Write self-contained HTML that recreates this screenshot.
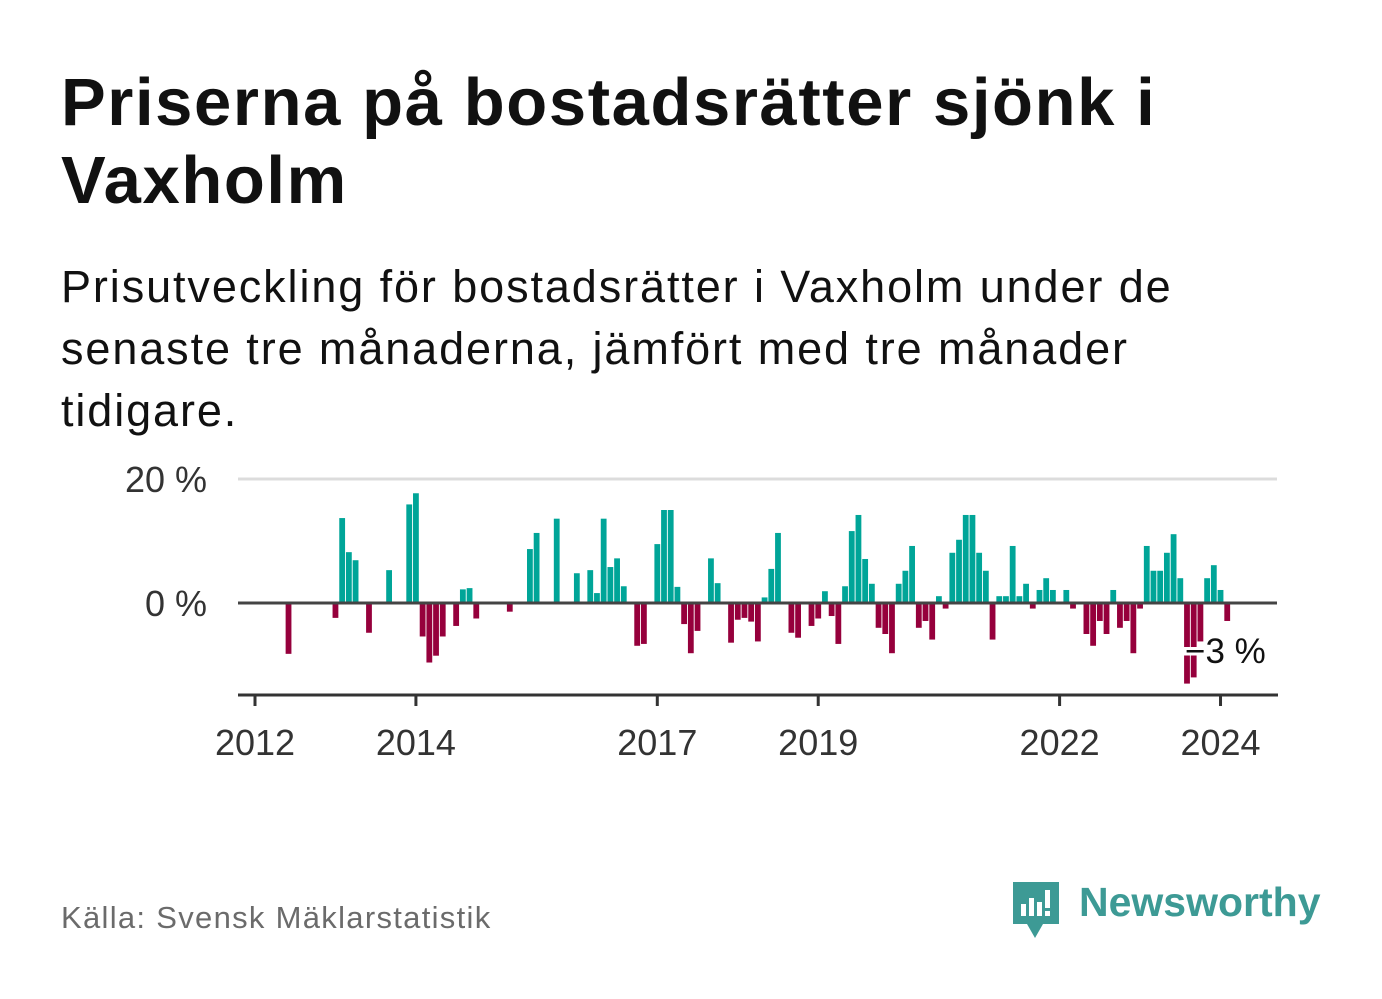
<!DOCTYPE html>
<html><head><meta charset="utf-8">
<style>
body{margin:0;width:1382px;height:999px;background:#fff;font-family:"Liberation Sans",sans-serif;overflow:hidden;position:relative}
h1{position:absolute;left:61px;top:64px;margin:0;font-size:67px;line-height:78px;font-weight:bold;color:#111;width:1300px;letter-spacing:1.6px;white-space:nowrap}
.sub{position:absolute;left:61px;top:256px;margin:0;font-size:45px;line-height:62px;color:#111;width:1300px;letter-spacing:1.9px;white-space:nowrap}
.src{position:absolute;left:61px;top:900px;font-size:31px;color:#6b6b6b;letter-spacing:1.3px}
.brand{position:absolute;left:1079px;top:879px;font-size:41px;font-weight:bold;color:#3d9a95}
</style></head><body>
<h1>Priserna på bostadsrätter sjönk i<br>Vaxholm</h1>
<p class="sub">Prisutveckling för bostadsrätter i Vaxholm under de<br>senaste tre månaderna, jämfört med tre månader<br>tidigare.</p>
<svg id="chart" width="1382" height="999" style="position:absolute;left:0;top:0" xmlns="http://www.w3.org/2000/svg"></svg>
<div class="src">Källa: Svensk Mäklarstatistik</div>
<svg style="position:absolute;left:1011px;top:880px" width="50" height="60">
<path d="M2 2h46v42h-16l-8 14-8-14H2z" fill="#3d9a95"/>
<rect x="10" y="24" width="5" height="12" fill="#fff"/><rect x="18" y="18" width="5" height="18" fill="#fff"/><rect x="26" y="22" width="5" height="14" fill="#fff"/><rect x="34" y="10" width="5" height="18" fill="#fff"/><rect x="34" y="31" width="5" height="5" fill="#fff"/>
</svg>
<div class="brand">Newsworthy</div>
<script>
const months=[5,12,13,14,15,17,20,23,24,25,26,27,28,30,31,32,33,38,41,42,45,48,50,51,52,53,54,55,57,58,60,61,62,63,64,65,66,68,69,71,72,73,74,75,76,77,78,80,81,83,84,85,86,87,88,89,90,91,92,93,94,95,96,97,98,99,100,101,102,103,104,105,106,107,108,109,110,111,112,113,114,115,116,117,118,119,121,122,124,125,126,127,128,129,130,131,132,133,134,135,136,137,138,139,140,141,142,143,144,145];
const values=[-8.2,-2.4,13.7,8.2,6.9,-4.8,5.3,15.9,17.7,-5.4,-9.6,-8.5,-5.4,-3.7,2.2,2.4,-2.5,-1.4,8.7,11.3,13.6,4.8,5.3,1.6,13.6,5.8,7.2,2.7,-6.9,-6.6,9.5,15.0,15.0,2.6,-3.4,-8.1,-4.5,7.2,3.2,-6.4,-2.7,-2.4,-3.0,-6.2,0.9,5.5,11.3,-4.8,-5.6,-3.7,-2.5,1.9,-2.1,-6.6,2.7,11.6,14.2,7.1,3.1,-4.0,-5.0,-8.1,3.1,5.2,9.2,-4.0,-2.9,-5.9,1.1,-0.9,8.1,10.2,14.2,14.2,8.1,5.2,-5.9,1.1,1.1,9.2,1.1,3.1,-0.9,2.1,4.0,2.1,2.1,-0.9,-5.0,-6.9,-2.9,-5.0,2.1,-4.0,-2.9,-8.1,-0.9,9.2,5.2,5.2,8.1,11.1,4.0,-13.0,-12.0,-6.2,4.0,6.1,2.1,-2.9];
const yTicks=[0,20];
const yTickLabels=["0 %","20 %"];
const xYears=[2012,2014,2017,2019,2022,2024];
const lastLabel="−3 %";
const NS="http://www.w3.org/2000/svg";
const svg=document.getElementById('chart');
const x=m=>255+m*6.705;
const xYear=yr=>x((yr-2012)*12);
const y=v=>603-v*6.2;
function el(t,a){const e=document.createElementNS(NS,t);for(const k in a)e.setAttribute(k,a[k]);svg.appendChild(e);return e;}
yTicks.forEach((t,i)=>{
  if(t!==0){const g=el('line',{x1:238,x2:1277,y1:y(t),y2:y(t),stroke:'#dcdcdc','stroke-width':3});
  
  }
  const tx=el('text',{x:207,y:y(t)+13,'text-anchor':'end','font-size':36,fill:'#333','font-family':'Liberation Sans, sans-serif'});
  tx.textContent=yTickLabels[i];
  
  
});
months.forEach((m,i)=>{
  const v=values[i];
  const r=el('rect',{x:x(m)-2.9,width:5.8,y:Math.min(y(v),y(0)),height:Math.abs(y(v)-y(0)),fill:v>=0?'#00a598':'#96003c'});
  
  
});
const zl=el('line',{x1:238,x2:1277,y1:y(0),y2:y(0),stroke:'#444','stroke-width':3});


const ax=el('line',{x1:238,x2:1278,y1:695,y2:695,stroke:'#333','stroke-width':3});


xYears.forEach(yr=>{
  const t=el('line',{x1:xYear(yr),x2:xYear(yr),y1:695,y2:706,stroke:'#333','stroke-width':3});
  
  
  const tx=el('text',{x:xYear(yr),y:755,'text-anchor':'middle','font-size':36,fill:'#333','font-family':'Liberation Sans, sans-serif'});
  tx.textContent=yr;
  
  
});
const lb=el('text',{x:1185,y:663,'font-size':35,fill:'#111',stroke:'#fff','stroke-width':6,'paint-order':'stroke','font-family':'Liberation Sans, sans-serif'});
lb.textContent=lastLabel;


</script>
</body></html>
